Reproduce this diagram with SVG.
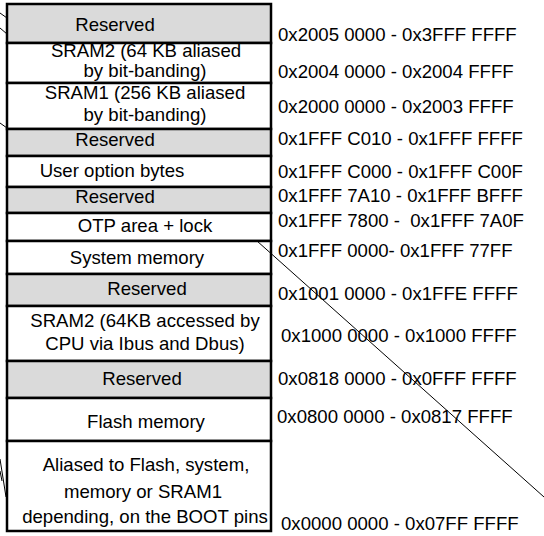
<svg xmlns="http://www.w3.org/2000/svg" width="544" height="536" viewBox="0 0 544 536">
<style>
.c{stroke:#000;stroke-width:2.5}
.g{fill:#dadada}
.w{fill:#fff}
text{font-family:"Liberation Sans",Arial,sans-serif;font-size:18.6px;fill:#000;white-space:pre}
.m{text-anchor:middle}
.ln{stroke:#000;stroke-width:1;fill:none}
</style>
<rect width="544" height="536" fill="#fff"/>
<g id="connectors">
<line class="ln" x1="0" y1="13" x2="7" y2="18"/>
<line class="ln" x1="0" y1="28" x2="7" y2="34"/>
<line class="ln" x1="0" y1="123" x2="7" y2="128"/>
<line class="ln" x1="0" y1="459" x2="6" y2="497"/>
<line class="ln" x1="0" y1="471" x2="2" y2="481"/>
</g>
<g id="r1"><rect class="c g" x="7" y="4" width="264" height="39"/><text class="m" x="115" y="31">Reserved</text></g>
<g id="r2"><rect class="c w" x="7" y="43" width="264" height="40"/><text class="m" x="146" y="57">SRAM2 (64 KB aliased</text><text class="m" x="145" y="77">by bit-banding)</text></g>
<g id="r3"><rect class="c w" x="7" y="83" width="264" height="46"/><text class="m" x="145" y="99">SRAM1 (256 KB aliased</text><text class="m" x="145" y="121">by bit-banding)</text></g>
<g id="r4"><rect class="c g" x="7" y="129" width="264" height="27"/><text class="m" x="115" y="146">Reserved</text></g>
<g id="r5"><rect class="c w" x="7" y="156" width="264" height="31"/><text class="m" x="112" y="177">User option bytes</text></g>
<g id="r6"><rect class="c g" x="7" y="187" width="264" height="26"/><text class="m" x="115" y="203">Reserved</text></g>
<g id="r7"><rect class="c w" x="7" y="213" width="264" height="28"/><text class="m" x="145" y="232">OTP area + lock</text></g>
<g id="r8"><rect class="c w" x="7" y="241" width="264" height="33"/><text class="m" x="137" y="264">System memory</text></g>
<g id="r9"><rect class="c g" x="7" y="274" width="264" height="32"/><text class="m" x="147" y="295">Reserved</text></g>
<g id="r10"><rect class="c w" x="7" y="306" width="264" height="55"/><text class="m" x="145" y="327">SRAM2 (64KB accessed by</text><text class="m" x="145" y="350">CPU via Ibus and Dbus)</text></g>
<g id="r11"><rect class="c g" x="7" y="361" width="264" height="37"/><text class="m" x="142" y="385">Reserved</text></g>
<g id="r12"><rect class="c w" x="7" y="398" width="264" height="43"/><text class="m" x="146" y="428">Flash memory</text></g>
<g id="r13"><rect class="c w" x="7" y="441" width="264" height="90"/><text class="m" x="146" y="471">Aliased to Flash, system,</text><text class="m" x="143" y="498">memory or SRAM1</text><text class="m" x="145" y="523">depending, on the BOOT pins</text></g>
<g id="addresses">
<text x="278" y="41">0x2005 0000 - 0x3FFF FFFF</text>
<text x="278" y="78">0x2004 0000 - 0x2004 FFFF</text>
<text x="278" y="113">0x2000 0000 - 0x2003 FFFF</text>
<text x="278" y="145">0x1FFF C010 - 0x1FFF FFFF</text>
<text x="278" y="178">0x1FFF C000 - 0x1FFF C00F</text>
<text x="278" y="202">0x1FFF 7A10 - 0x1FFF BFFF</text>
<text x="278" y="227">0x1FFF 7800 -  0x1FFF 7A0F</text>
<text x="278" y="257">0x1FFF 0000- 0x1FFF 77FF</text>
<text x="278" y="300">0x1001 0000 - 0x1FFE FFFF</text>
<text x="281" y="342">0x1000 0000 - 0x1000 FFFF</text>
<text x="278" y="385">0x0818 0000 - 0x0FFF FFFF</text>
<text x="277" y="423">0x0800 0000 - 0x0817 FFFF</text>
<text x="281" y="530">0x0000 0000 - 0x07FF FFFF</text>
</g>
<g id="diagonal"><line class="ln" x1="257" y1="241" x2="544" y2="497"/></g>
</svg>
